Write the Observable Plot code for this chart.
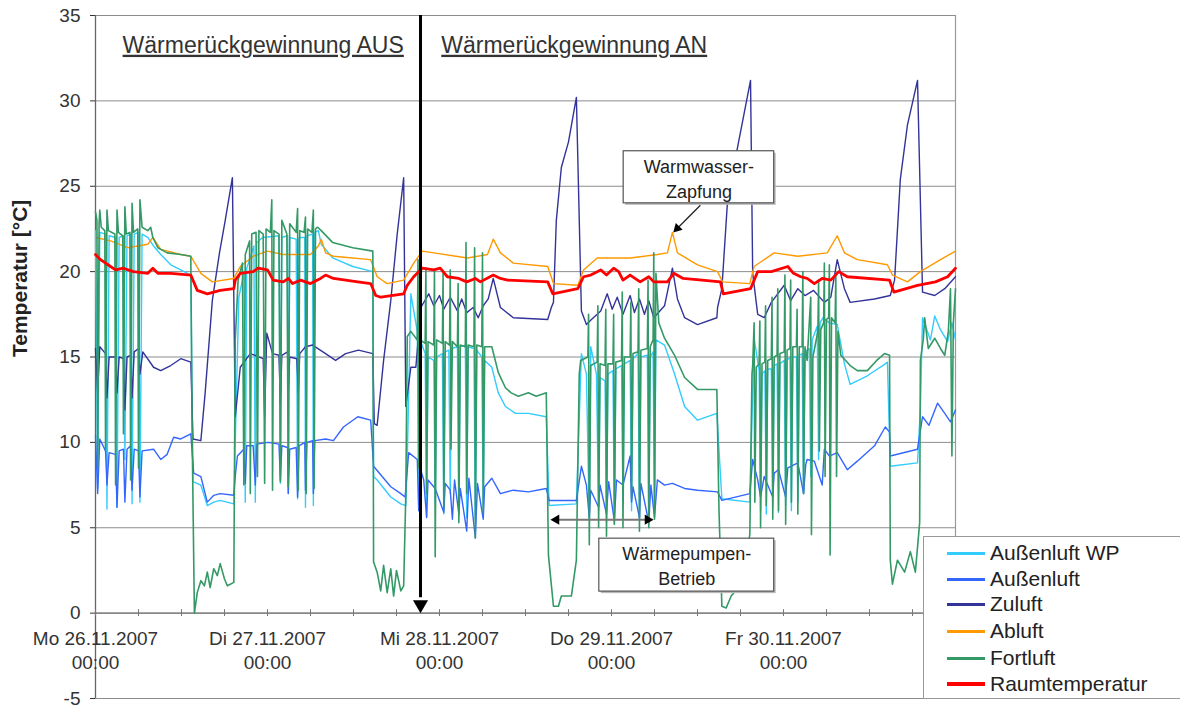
<!DOCTYPE html>
<html><head><meta charset="utf-8">
<script src="https://cdn.jsdelivr.net/npm/d3@7"></script>
<script src="https://cdn.jsdelivr.net/npm/@observablehq/plot@0.6"></script>
<style>
body{margin:0;background:#fff;font-family:"Liberation Sans",Arial,sans-serif;}
#wrap{position:relative;width:1180px;height:708px;overflow:hidden;}
#legend{position:absolute;left:923px;top:536px;width:260px;height:163px;background:#fff;border:1px solid #999;box-sizing:border-box;}
.item{position:absolute;left:0;height:26px;display:flex;align-items:center;font-size:21px;color:#222;white-space:nowrap;}
.sw{width:38px;height:3px;margin-left:23px;margin-right:5px;}
</style></head>
<body><div id="wrap"><div id="chart"></div><div id="legend"></div></div>
<script>
// hours since Mo 26.11.2007 00:00 , temperature in °C
const aussenluftWP = [[0,22.4],[0.3,7.3],[0.6,22.3],[1.4,22.2],[1.6,6.1],[1.9,22.1],[2.8,22.0],[3.0,6.2],[3.3,22.0],[3.9,22.1],[4.1,9.0],[4.4,22.1],[4.9,22.2],[5.1,6.4],[5.4,22.2],[6.0,22.3],[6.2,6.5],[6.5,22.2],[7.3,22.0],[8.1,21.5],[9.1,21.0],[10.5,20.4],[11.9,20.1],[13.3,19.8],[13.6,7.7],[14.7,7.5],[15.6,6.3],[16.5,6.5],[17.4,6.6],[19.3,6.4],[19.5,10.0],[20.0,18.5],[20.7,19.9],[20.9,6.5],[21.1,20.2],[22.1,21.5],[22.3,6.5],[22.5,21.7],[23.3,22.0],[25.6,22.1],[25.8,7.6],[26.0,22.0],[26.8,22.1],[26.9,7.0],[27.1,22.0],[28.0,21.9],[28.2,6.7],[28.4,22.0],[29.2,22.0],[29.3,6.2],[29.5,22.1],[30.3,22.2],[30.4,6.3],[30.6,22.3],[31.1,22.4],[31.5,21.6],[33.1,20.8],[35.9,20.3],[38.7,20.0],[38.8,8.0],[39.3,7.8],[41.2,6.8],[42.6,6.4],[43.3,6.3],[43.5,9.0],[44.0,18.7],[44.9,16.5],[45.1,6.0],[45.3,16.0],[46.0,15.2],[46.2,5.6],[46.4,15.0],[47.2,14.8],[47.4,6.5],[47.6,15.0],[48.4,15.2],[48.6,5.8],[48.8,15.3],[49.3,15.4],[49.5,7.0],[49.7,15.5],[50.5,15.6],[50.7,5.7],[50.9,15.6],[51.6,15.7],[51.8,5.6],[52.0,15.6],[52.8,15.5],[53.0,5.5],[53.2,15.4],[53.9,15.0],[54.1,6.0],[54.3,14.8],[55.3,14.4],[56.2,12.9],[57.2,12.1],[58.6,11.7],[60.4,11.7],[62.9,11.5],[63.3,6.3],[67.1,6.4],[67.8,15.2],[68.5,14.0],[68.9,5.5],[69.1,15.6],[69.9,14.0],[70.2,6.0],[70.4,13.8],[71.1,13.6],[71.3,5.3],[71.5,14.0],[72.2,14.2],[72.4,5.2],[72.6,14.3],[73.4,14.5],[73.6,6.5],[73.8,14.6],[74.6,14.8],[74.8,6.0],[75.0,14.9],[75.7,15.2],[75.9,5.5],[76.1,15.0],[77.0,15.1],[77.2,5.2],[77.4,15.0],[77.8,15.3],[78.0,5.8],[78.2,16.0],[79.4,15.7],[80.8,14.0],[82.2,12.1],[84.0,11.3],[86.7,11.7],[87.4,6.7],[91.3,6.5],[91.9,16.1],[92.6,14.2],[92.8,6.0],[93.0,14.0],[93.4,14.2],[93.6,5.8],[93.8,14.3],[94.3,14.3],[94.5,6.2],[94.7,14.5],[95.1,14.6],[95.3,5.9],[95.5,14.6],[96.1,14.8],[96.3,6.3],[96.5,14.8],[96.9,15.0],[97.1,6.0],[97.3,15.0],[97.8,15.0],[98.0,6.5],[98.2,15.1],[98.6,15.2],[98.8,7.0],[99.0,15.3],[99.6,15.5],[99.8,8.0],[100.0,16.0],[100.7,16.8],[100.9,9.0],[101.1,17.0],[101.5,17.3],[102.4,17.0],[103.5,16.9],[104.5,14.6],[105.3,13.4],[107.7,13.9],[110.2,14.6],[110.5,14.7],[110.9,8.6],[114.7,8.8],[115.1,12.0],[115.4,17.3],[116.5,16.0],[117.1,17.4],[117.9,16.6],[118.9,15.9],[119.5,17.0],[120,16.0]];
const aussenluft = [[0,10.4],[0.3,7.0],[0.6,10.2],[1.4,9.5],[1.6,7.5],[1.9,9.4],[2.8,9.3],[3.0,6.2],[3.3,9.5],[3.9,9.6],[4.1,6.5],[4.4,9.6],[4.9,9.8],[5.1,7.2],[5.4,9.6],[6.0,9.5],[6.2,6.8],[6.5,9.5],[8.1,9.6],[9.1,9.0],[10.0,9.3],[10.9,10.3],[11.9,10.2],[13.3,10.5],[13.7,8.2],[14.7,8.0],[15.6,6.5],[16.5,6.9],[17.4,7.0],[19.3,6.9],[19.5,8.0],[19.8,9.2],[20.7,9.6],[20.9,7.6],[21.1,9.8],[22.0,9.8],[22.3,7.5],[22.5,9.9],[24.1,10.0],[25.6,9.9],[25.8,7.8],[26.0,9.8],[26.8,9.7],[26.9,7.0],[27.1,9.6],[28.0,9.7],[28.2,6.8],[28.4,9.8],[29.2,10.0],[29.3,7.2],[29.5,10.0],[30.3,10.1],[30.4,7.0],[30.6,10.1],[32.1,10.2],[33.2,10.1],[34.6,10.9],[36.6,11.5],[38.4,11.3],[38.8,8.6],[41.2,7.4],[42.6,7.0],[43.2,6.8],[43.7,9.4],[44.9,9.0],[45.1,6.0],[45.3,8.5],[45.8,7.8],[46.2,5.6],[46.4,7.8],[47.4,7.3],[48.6,5.9],[48.8,7.6],[49.5,7.2],[49.8,5.5],[50.1,7.8],[50.7,5.8],[50.9,7.3],[51.8,4.8],[52.1,7.9],[53.0,4.4],[53.3,7.6],[54.1,5.5],[54.3,7.4],[55.3,7.9],[56.5,7.0],[58.3,7.2],[60.4,7.1],[62.9,7.3],[63.3,6.6],[67.1,6.6],[67.8,8.6],[68.5,7.5],[68.9,5.6],[69.1,7.2],[70.2,6.2],[70.4,7.5],[71.3,5.8],[71.6,7.7],[72.4,5.4],[72.7,7.8],[73.6,7.5],[74.6,9.2],[74.8,6.5],[75.0,7.4],[75.9,5.6],[76.1,7.6],[77.2,5.3],[77.5,7.5],[78.0,5.6],[78.4,7.8],[79.4,7.5],[80.5,7.6],[82.2,7.3],[84.0,7.2],[86.8,7.1],[87.4,6.6],[91.3,7.0],[91.7,9.0],[92.4,7.8],[92.8,6.8],[93.3,8.0],[94.5,6.8],[94.7,8.2],[95.3,8.4],[96.3,6.8],[96.6,8.5],[98.0,8.8],[98.8,7.0],[99.1,8.7],[99.3,9.0],[100.3,8.9],[101.4,7.5],[101.7,9.6],[102.4,9.2],[103.5,9.4],[104.9,8.4],[106.3,8.9],[108.7,9.8],[110.2,10.9],[110.8,10.6],[110.9,9.2],[114.7,9.6],[115.4,11.5],[116.3,11.0],[117.5,12.3],[118.5,11.7],[119.3,11.2],[120,11.9]];
const zuluft = [[0,15.5],[0.3,13.0],[0.6,15.6],[1.4,15.2],[1.6,12.6],[1.9,15.0],[2.8,15.0],[3.0,12.9],[3.3,15.0],[3.9,14.9],[4.1,11.9],[4.4,15.0],[4.9,15.1],[5.1,12.6],[5.4,15.3],[6.0,15.5],[6.2,14.0],[6.6,15.3],[8.1,14.4],[9.1,14.2],[10.5,14.5],[11.9,14.9],[13.3,14.7],[13.6,10.2],[14.7,10.1],[15.3,12.9],[16.3,18.3],[17.3,21.1],[18.1,23.0],[19.1,25.5],[19.5,11.5],[20.2,14.4],[21.6,15.2],[23.4,14.9],[23.6,11.5],[23.9,16.4],[24.7,15.2],[25.6,15.1],[25.8,12.3],[26.0,15.1],[26.8,15.3],[26.9,13.0],[27.1,15.0],[28.1,14.9],[28.3,12.9],[28.5,15.2],[29.3,15.6],[30.3,15.7],[32.1,15.2],[33.5,14.8],[34.9,15.2],[36.7,15.4],[38.7,15.2],[38.9,11.1],[39.3,11.0],[40.2,14.8],[41.2,18.3],[42.1,22.2],[43.0,25.5],[43.3,12.1],[44.0,14.4],[44.7,14.4],[45.4,17.9],[46.5,18.7],[47.2,18.0],[48.0,18.6],[48.6,17.8],[49.5,18.5],[50.5,17.7],[51.1,18.4],[51.8,17.6],[52.7,17.9],[53.4,17.3],[54.1,18.0],[54.8,18.4],[55.5,19.6],[56.5,17.9],[58.3,17.3],[63.1,17.2],[63.6,17.9],[63.9,18.2],[64.3,23.0],[65.0,26.1],[66.0,27.6],[67.1,30.2],[67.8,17.7],[68.5,16.9],[69.2,17.2],[70.5,17.7],[71.4,18.7],[72.1,17.8],[72.8,18.5],[73.6,17.5],[74.6,18.6],[75.2,17.6],[75.9,18.4],[76.6,17.5],[77.2,18.3],[77.9,17.3],[79.4,18.0],[80.5,20.2],[81.2,18.4],[82.2,17.3],[84.0,16.9],[86.7,17.3],[86.8,17.9],[87.4,19.0],[88.2,24.2],[89.6,27.3],[91.4,31.2],[91.7,19.9],[92.4,17.5],[93.3,17.3],[94.3,18.2],[96.1,19.2],[97.0,18.3],[98.0,19.0],[99.0,18.6],[100.2,18.9],[101.7,18.2],[102.6,18.5],[103.5,20.7],[104.5,19.0],[105.3,18.2],[108.7,18.4],[110.9,18.6],[111.5,19.5],[112.3,25.4],[113.3,28.6],[114.7,31.2],[115.4,18.8],[117.1,18.6],[118.5,19.0],[120,19.7]];
const abluft = [[0,22.0],[2.1,21.8],[4.5,21.4],[7.3,21.6],[8.0,22.0],[9.1,21.3],[11.9,21.0],[13.3,20.9],[14.7,19.9],[16.3,19.4],[19.3,19.6],[20.2,20.3],[22.0,20.9],[24.0,21.2],[26.2,21.0],[30.0,21.0],[31.1,21.5],[31.5,21.9],[32.1,21.1],[33.2,20.9],[38.4,20.7],[39.3,19.7],[40.7,19.3],[43.0,19.5],[44.4,20.5],[45.6,21.2],[47.2,21.1],[51.9,20.8],[54.7,21.0],[55.5,21.9],[56.5,21.1],[58.3,20.5],[63.1,20.3],[63.9,19.3],[67.3,19.2],[68.1,20.1],[70.0,20.8],[74.6,20.8],[78.4,21.0],[79.8,21.1],[80.5,22.3],[81.2,21.1],[84.0,20.4],[86.8,20.0],[87.5,19.4],[91.3,19.3],[91.9,20.3],[94.7,21.1],[98.0,20.9],[102.1,21.1],[103.5,22.1],[104.5,21.1],[106.3,20.7],[110.5,20.4],[111.2,19.8],[113.3,19.4],[115.1,20.0],[117.9,20.7],[120,21.2]];
const fortluft = [[0,23.5],[0.2,23.0],[0.3,8.5],[0.5,22.8],[0.6,23.6],[0.8,22.6],[1.3,22.4],[1.4,9.5],[1.6,23.6],[1.8,22.4],[2.7,22.2],[2.8,7.5],[3.0,23.6],[3.2,22.3],[3.8,22.1],[3.9,10.5],[4.1,23.8],[4.3,22.2],[4.8,22.3],[4.9,7.8],[5.1,24.0],[5.3,22.3],[5.9,22.5],[6.0,8.5],[6.2,24.2],[6.5,22.6],[7.3,22.4],[7.7,22.6],[8.0,22.0],[8.7,21.4],[10.0,21.1],[11.9,21.0],[13.3,20.9],[13.5,10.0],[13.8,0.0],[14.2,1.2],[14.7,1.9],[15.2,1.6],[15.6,2.4],[16.0,1.5],[16.5,2.6],[17.0,2.2],[17.4,2.9],[18.0,2.0],[18.4,1.6],[19.3,1.8],[19.5,16.0],[19.9,19.5],[20.5,20.5],[20.7,7.5],[20.9,21.0],[21.5,21.8],[21.6,7.0],[21.8,22.2],[22.4,22.3],[22.6,8.0],[22.8,22.4],[23.4,22.2],[23.6,7.6],[23.8,22.5],[24.4,22.3],[24.6,24.2],[24.7,7.2],[24.9,22.4],[25.6,22.2],[25.8,7.7],[26.0,23.0],[26.7,22.2],[26.9,7.4],[27.1,22.8],[28.0,22.3],[28.2,23.7],[28.3,7.2],[28.5,22.4],[29.1,22.3],[29.3,23.2],[29.4,7.0],[29.6,22.5],[30.2,22.3],[30.4,23.6],[30.5,7.3],[30.7,22.5],[31.0,22.6],[31.5,22.4],[33.1,21.7],[35.9,21.4],[38.7,21.2],[38.8,3.0],[39.3,2.4],[39.8,1.3],[40.2,2.8],[40.7,1.2],[41.2,2.6],[41.6,1.0],[42.0,2.5],[42.6,1.3],[43.0,1.6],[43.3,7.0],[43.5,16.2],[44.0,16.5],[44.9,16.0],[45.0,20.7],[45.1,8.5],[45.3,16.0],[46.0,15.8],[46.1,20.2],[46.2,7.0],[46.4,15.9],[47.2,15.7],[47.3,20.1],[47.4,3.3],[47.6,16.0],[48.4,15.8],[48.5,19.9],[48.6,6.1],[48.8,15.9],[49.4,15.7],[49.5,20.1],[49.6,9.6],[49.8,15.9],[50.5,15.6],[50.6,19.3],[50.7,5.3],[50.9,15.7],[51.6,15.6],[51.7,21.7],[51.8,7.0],[52.0,15.7],[52.8,15.6],[52.9,21.4],[53.0,4.4],[53.2,15.7],[53.9,15.6],[54.0,21.1],[54.1,5.9],[54.3,15.6],[55.3,15.6],[56.2,14.1],[57.2,13.2],[58.0,12.9],[59.0,12.7],[60.4,12.9],[61.5,12.7],[62.9,12.9],[63.2,3.4],[63.9,0.4],[64.6,0.4],[65.0,1.0],[66.4,1.0],[67.1,3.1],[67.5,14.0],[67.7,14.8],[68.7,15.0],[68.8,17.5],[68.9,4.0],[69.1,14.5],[70.0,14.7],[70.1,18.0],[70.2,5.0],[70.4,14.6],[71.1,14.5],[71.2,17.8],[71.3,4.5],[71.5,14.6],[72.2,14.6],[72.3,17.5],[72.4,5.2],[72.6,14.7],[73.4,14.8],[73.5,18.8],[73.6,5.0],[73.8,15.0],[74.6,15.0],[74.7,18.2],[74.8,6.7],[75.0,15.2],[75.7,15.3],[75.8,19.0],[75.9,4.8],[76.1,15.4],[77.0,15.5],[77.1,19.5],[77.2,5.0],[77.4,15.6],[77.8,16.0],[77.9,21.1],[78.0,5.5],[78.2,19.9],[78.6,17.0],[79.4,16.1],[80.8,15.1],[82.2,13.8],[84.0,13.1],[86.7,13.1],[87.0,6.0],[87.4,0.4],[88.0,0.3],[88.7,1.0],[90.1,1.7],[91.3,4.6],[91.6,14.0],[91.7,14.5],[91.9,17.0],[92.0,6.5],[92.2,14.4],[92.6,14.6],[92.7,17.1],[92.8,5.0],[93.0,14.6],[93.4,14.7],[93.5,18.0],[93.6,6.3],[93.8,14.8],[94.3,14.9],[94.4,18.5],[94.5,5.5],[94.7,15.0],[95.1,15.1],[95.2,19.0],[95.3,6.0],[95.5,15.2],[96.1,15.3],[96.2,19.8],[96.3,5.2],[96.5,15.4],[96.9,15.5],[97.0,19.5],[97.1,6.5],[97.3,15.6],[97.8,15.6],[97.9,17.8],[98.0,5.8],[98.2,15.6],[98.6,15.6],[98.7,20.0],[98.8,7.0],[99.0,15.6],[99.3,14.8],[99.8,18.5],[99.9,4.6],[100.1,15.0],[100.8,16.5],[100.9,19.5],[101.0,9.5],[101.2,16.6],[101.6,17.0],[101.7,20.5],[101.8,8.0],[102.0,17.2],[102.3,17.3],[102.4,20.4],[102.5,3.4],[102.7,17.3],[103.2,17.0],[103.3,19.8],[103.4,8.0],[103.6,16.5],[104.0,15.1],[105.3,14.5],[106.3,14.2],[107.7,14.2],[109.0,14.8],[110.1,15.2],[110.8,15.1],[110.9,3.1],[111.2,1.7],[111.9,3.1],[112.9,2.4],[113.7,3.6],[114.4,2.4],[115.0,5.3],[115.1,14.8],[115.5,16.0],[115.7,17.3],[116.2,15.5],[117.1,16.1],[117.9,15.5],[118.5,15.1],[119.0,16.5],[119.3,19.0],[119.5,9.2],[119.7,17.0],[120,19.0]];
const raumtemperatur = [[0,21.0],[0.7,20.7],[2.1,20.3],[2.8,20.1],[3.9,20.2],[5.3,20.0],[7.3,19.9],[8.0,20.2],[8.7,19.9],[10.5,19.9],[13.3,19.8],[14.2,18.9],[15.6,18.7],[17.4,18.9],[19.3,19.0],[19.5,19.5],[20.2,19.9],[22.0,20.0],[22.7,20.2],[24.0,20.1],[24.8,19.5],[26.2,19.4],[26.9,19.6],[27.5,19.3],[28.6,19.5],[30.0,19.3],[31.4,19.6],[32.1,19.8],[33.2,19.6],[36.6,19.4],[38.4,19.3],[39.1,18.6],[39.8,18.5],[43.0,18.7],[43.5,19.2],[44.4,19.7],[45.6,20.2],[47.2,20.1],[48.1,20.2],[49.1,19.7],[50.7,19.6],[51.8,19.4],[53.0,19.6],[53.7,19.4],[55.5,19.8],[56.5,19.6],[57.5,19.5],[63.1,19.4],[63.8,18.7],[67.3,19.0],[68.1,19.7],[69.1,19.8],[70.5,20.1],[71.3,19.8],[72.3,20.2],[73.0,20.0],[73.6,19.5],[74.6,19.8],[76.0,19.4],[77.2,19.7],[77.9,19.4],[79.8,19.4],[80.7,19.9],[82.0,19.6],[87.2,19.4],[87.6,18.7],[91.4,19.0],[92.4,20.0],[94.3,20.0],[96.6,20.3],[97.4,19.9],[98.4,19.7],[99.3,19.6],[100.3,19.3],[101.4,19.6],[102.6,19.5],[103.7,20.0],[104.9,19.7],[110.8,19.5],[111.4,18.8],[114.7,19.2],[117.2,19.4],[118.9,19.7],[120,20.2]];

const seriesNames = ["Außenluft WP","Außenluft","Zuluft","Abluft","Fortluft","Raumtemperatur"];
const seriesColors = ["#33ccff","#3366ff","#333399","#ff9900","#339966","#ff0000"];
const seriesData = [aussenluftWP, aussenluft, zuluft, abluft, fortluft, raumtemperatur];
const seriesWidths = [1.4,1.4,1.4,1.4,1.6,2.8];

const dayLabels = ["Mo 26.11.2007\n00:00","Di 27.11.2007\n00:00","Mi 28.11.2007\n00:00","Do 29.11.2007\n00:00","Fr 30.11.2007\n00:00"];
const dayHours = [0,24,48,72,96];
const minorTickHours = d3.range(0,121,6);
const yTicks = [-5,0,5,10,15,20,25,30,35];

const T0 = Date.UTC(2007,10,26);
const toDate = h => new Date(T0 + h*3600e3);

// annotations (hours, °C)
const regionTitles = [{h:23.4,v:33.25,text:"Wärmerückgewinnung AUS"},{h:66.8,v:33.25,text:"Wärmerückgewinnung AN"}];
const switchHour = 45.35;
const boxes = [{h1:73.7,h2:94.7,v1:24.0,v2:27.05},{h1:70.3,h2:94.7,v1:1.26,v2:4.36}];
const boxTexts = [{h:84.2,v:25.5,text:"Warmwasser-\nZapfung"},{h:82.5,v:2.84,text:"Wärmepumpen-\nBetrieb"}];

const lineMarks = seriesData.map((data,i) => Plot.line(data, {
  x: d => toDate(d[0]), y: d => d[1], stroke: seriesColors[i], strokeWidth: seriesWidths[i], strokeLinejoin:"round"
}));

const chart = Plot.plot({
  width:1180, height:708,
  marginLeft:95, marginRight:225, marginTop:15, marginBottom:10,
  style:{fontFamily:'"Liberation Sans", Arial, sans-serif', fontSize:"19px", color:"#333", background:"#fff", overflow:"visible"},
  x:{type:"utc", domain:[toDate(0), toDate(120)], axis:null},
  y:{domain:[-5,35], ticks:8, tickSize:5, tickPadding:10, label:null, tickFormat:d=>String(d)},
  marks:[
    Plot.ruleY(yTicks, {stroke:"#8c8c8c", strokeWidth:1}),
    Plot.ruleX([toDate(120)], {stroke:"#9a9a9a", strokeWidth:1.2}),
    Plot.ruleX([toDate(0)], {stroke:"#666", strokeWidth:1.3}),
    Plot.ruleY([0], {stroke:"#777", strokeWidth:1.2}),
    Plot.ruleX(minorTickHours, {x:d=>toDate(d), y1:0.2, y2:-0.2, stroke:"#777"}),
    Plot.text(dayHours, {x:d=>toDate(d), y:0, text:(d,i)=>dayLabels[i], dy:14, lineAnchor:"top", lineHeight:1.3, fill:"#333", fontSize:19}),
    Plot.text(["Temperatur [°C]"], {frameAnchor:"left", dx:-75, rotate:-90, fontWeight:"bold", fontSize:21, fill:"#222"}),
    ...lineMarks,
    Plot.text(regionTitles, {x:d=>toDate(d.h), y:"v", text:"text", fontSize:23, fill:"#333"}),
    Plot.ruleX([switchHour], {x:d=>toDate(d), y1:35, y2:0.9, stroke:"#000", strokeWidth:3}),
    Plot.dot([switchHour], {x:d=>toDate(d), y:0.5, symbol:"triangle", r:5.6, fill:"#000", stroke:"none", rotate:180}),
    Plot.rect(boxes, {x1:d=>toDate(d.h1), x2:d=>toDate(d.h2), y1:"v1", y2:"v2", fill:"#b8b8b8", dx:2, dy:2}),
    Plot.rect(boxes, {x1:d=>toDate(d.h1), x2:d=>toDate(d.h2), y1:"v1", y2:"v2", fill:"#fff", stroke:"#555", strokeWidth:1.2}),
    Plot.text(boxTexts, {x:d=>toDate(d.h), y:"v", text:"text", fontSize:18, lineHeight:1.35, fill:"#222"}),
    Plot.link([{h1:84.4,v1:23.89,h2:81.17,v2:22.53}], {x1:d=>toDate(d.h1), y1:"v1", x2:d=>toDate(d.h2), y2:"v2", stroke:"#222", strokeWidth:1.3}),
    Plot.dot([{h:81.17,v:22.53}], {x:d=>toDate(d.h), y:"v", symbol:"triangle", r:3.6, fill:"#000", stroke:"none", rotate:225}),
    Plot.link([{h1:64.3,h2:77.05,v:5.47}], {x1:d=>toDate(d.h1), x2:d=>toDate(d.h2), y1:"v", y2:"v", stroke:"#777", strokeWidth:2}),
    Plot.dot([{h:64.3,v:5.47,r:270},{h:77.05,v:5.47,r:90}], {x:d=>toDate(d.h), y:"v", symbol:"triangle", r:3.8, fill:"#000", stroke:"none", rotate:"r"})
  ]
});
document.getElementById("chart").appendChild(chart);
d3.select(chart).selectAll("text").filter(function(){return this.textContent.startsWith("Wärmerück");}).attr("text-decoration","underline");

const legend = document.getElementById("legend");
const legendCenters = [16,42,67,94,121,147];
seriesNames.forEach((n,i) => {
  const it = document.createElement("div");
  it.className = "item";
  it.style.top = (legendCenters[i]-13) + "px";
  it.innerHTML = `<span class="sw" style="background:${seriesColors[i]};height:${i===5?3.5:3}px"></span><span>${n}</span>`;
  legend.appendChild(it);
});
</script></body></html>
